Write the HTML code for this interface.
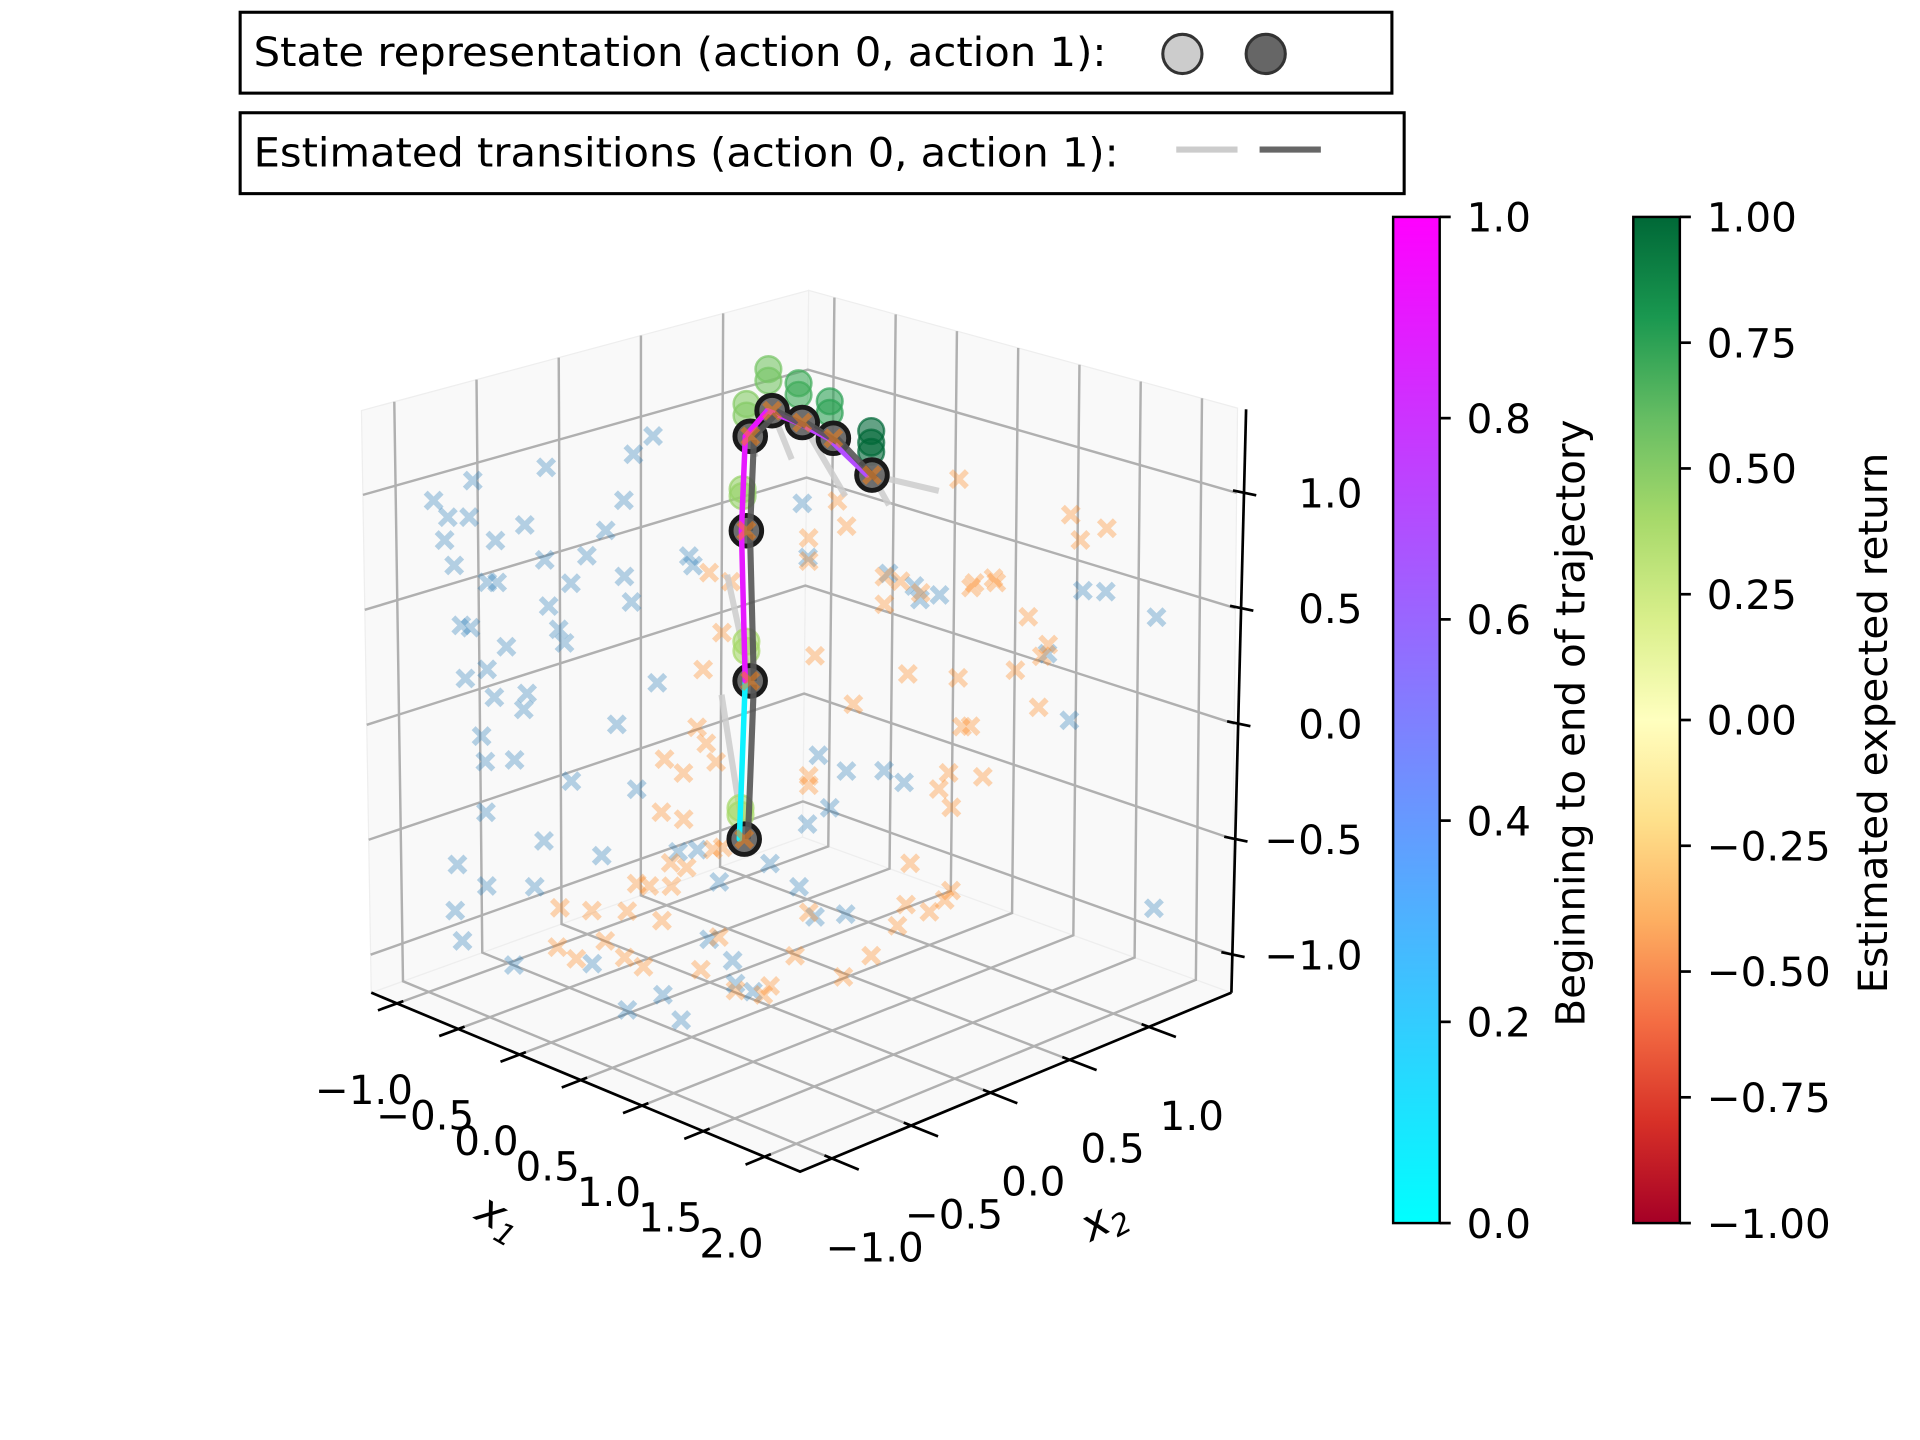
<!DOCTYPE html>
<html><head><meta charset="utf-8"><style>
html,body{margin:0;padding:0;background:#fff;}
svg{display:block;font-family:"DejaVu Sans","Liberation Sans",sans-serif;}
</style></head><body>
<svg id="chart" width="1920" height="1440" viewBox="0 0 1567 1175" preserveAspectRatio="none" xmlns="http://www.w3.org/2000/svg">
<defs>
<linearGradient id="gcool" x1="0" y1="1" x2="0" y2="0"><stop offset="0" stop-color="#00ffff"/><stop offset="1" stop-color="#ff00ff"/></linearGradient>
<linearGradient id="grdylgn" x1="0" y1="1" x2="0" y2="0">
<stop offset="0" stop-color="#a50026"/><stop offset="0.1" stop-color="#d73027"/><stop offset="0.2" stop-color="#f46d43"/><stop offset="0.3" stop-color="#fdae61"/><stop offset="0.4" stop-color="#fee08b"/><stop offset="0.5" stop-color="#ffffbf"/><stop offset="0.6" stop-color="#d9ef8b"/><stop offset="0.7" stop-color="#a6d96a"/><stop offset="0.8" stop-color="#66bd63"/><stop offset="0.9" stop-color="#1a9850"/><stop offset="1" stop-color="#006837"/>
</linearGradient>
</defs>
<g id="legend1">
<rect x="196" y="10" width="940" height="66" fill="#fff" stroke="#000" stroke-width="2.5"/>
<text x="207" y="54" font-size="33" textLength="696" lengthAdjust="spacingAndGlyphs">State representation (action 0, action 1):</text>
<circle cx="965" cy="44" r="16" fill="#cccccc" stroke="#333" stroke-width="2.5"/>
<circle cx="1033" cy="44" r="16" fill="#666666" stroke="#333" stroke-width="2.5"/>
</g>
<g id="legend2">
<rect x="196" y="92" width="950" height="66" fill="#fff" stroke="#000" stroke-width="2.5"/>
<text x="207" y="136" font-size="33" textLength="706" lengthAdjust="spacingAndGlyphs">Estimated transitions (action 0, action 1):</text>
<line x1="960" y1="122" x2="1010" y2="122" stroke="#cccccc" stroke-width="5"/>
<line x1="1028" y1="122" x2="1078" y2="122" stroke="#666666" stroke-width="5"/>
</g>
<g id="plot3d"></g>
<g id="cbar1">
<rect x="1137" y="177" width="38" height="821" fill="url(#gcool)" stroke="#000" stroke-width="2"/>
</g>
<g id="cbar2">
<rect x="1333" y="177" width="38" height="821" fill="url(#grdylgn)" stroke="#000" stroke-width="2"/>
</g>
<text transform="translate(1293,590) rotate(-90)" text-anchor="middle" font-size="33">Beginning to end of trajectory</text>
<text transform="translate(1540,590) rotate(-90)" text-anchor="middle" font-size="33">Estimated expected return</text>
</svg>
<script>
// axis domains
const X1MIN=-1.21, X1MAX=2.29, X2MIN=-1.2, X2MAX=1.52, ZMIN=-1.165, ZMAX=1.367;
const x1Ticks=[-1.0,-0.5,0.0,0.5,1.0,1.5,2.0];
const x1TickLabels=["\u22121.0","\u22120.5","0.0","0.5","1.0","1.5","2.0"];
const x2Ticks=[-1.0,-0.5,0.0,0.5,1.0];
const x2TickLabels=["\u22121.0","\u22120.5","0.0","0.5","1.0"];
const zTicks=[-1.0,-0.5,0.0,0.5,1.0];
const zTickLabels=["\u22121.0","\u22120.5","0.0","0.5","1.0"];
// action 0 sampled states (blue)
const blueX1=[-0.05,-0.13,-0.77,-0.48,-0.17,-0.93,-0.87,-0.79,-0.885,-0.685,-0.565,-0.24,-0.485,-0.315,-0.85,-0.675,-0.715,-0.38,-0.17,-0.14,0.09,0.11,-0.47,-0.825,-0.79,-0.43,-0.41,-0.645,-0.725,-0.81,-0.695,-0.56,-0.575,-0.04,-0.20,-0.75,-0.735,-0.615,-0.39,-0.12,-0.735,-0.855,-0.735,-0.50,-0.265,0.045,-0.865,-0.835,-0.54,-0.625,-0.31,0.365,-0.02,0.165,0.265,0.275,0.43,0.44,0.55,0.57,0.895,1.0,1.10,1.02,0.875,0.96,0.725,0.615,0.655,0.565,0.415,0.535,0.60,0.72,1.675,1.77,1.975,1.535,1.625,1.975,0.125,0.21];
const blueX2=[-0.30,-0.36,-0.86,-0.63,-0.39,-0.98,-0.94,-0.87,-0.95,-0.79,-0.70,-0.45,-0.64,-0.51,-0.92,-0.79,-0.82,-0.56,-0.39,-0.37,-0.19,-0.18,-0.63,-0.90,-0.87,-0.60,-0.58,-0.76,-0.82,-0.89,-0.80,-0.70,-0.71,-0.29,-0.42,-0.84,-0.83,-0.74,-0.56,-0.36,-0.83,-0.92,-0.83,-0.65,-0.47,-0.23,-0.93,-0.91,-0.68,-0.75,-0.50,-0.80,-0.28,-0.13,-0.06,-0.05,-0.06,-0.52,0.16,0.18,0.43,0.51,0.59,0.53,0.42,0.48,0.30,0.21,0.25,0.18,0.06,0.15,0.20,0.30,1.04,1.11,1.27,0.93,1.00,1.27,-0.17,-0.10];
const blueZ=[1.27,1.19,1.07,1.13,0.99,0.98,0.91,0.91,0.81,0.81,0.88,0.86,0.73,0.75,0.70,0.63,0.63,0.63,0.66,0.55,0.75,0.71,0.53,0.44,0.43,0.43,0.37,0.35,0.25,0.21,0.13,0.15,0.08,0.20,0.02,-0.04,-0.15,-0.14,-0.23,-0.26,-0.37,-0.60,-0.69,-0.49,-0.55,-0.53,-0.80,-0.93,-0.69,-1.03,-1.02,-1.0,-1.15,-0.91,-1.00,-1.10,-1.1,-1.1,0.98,0.745,0.675,0.62,0.58,0.56,-0.18,-0.23,-0.18,-0.11,-0.34,-0.41,-0.58,-0.68,-0.81,-0.80,0.59,0.585,0.47,0.32,0.03,-0.79,-0.52,-0.66];
// action 1 sampled states (orange)
const orangeX1=[1.175,0.69,0.725,0.575,0.575,0.175,0.26,0.875,0.94,1.24,1.315,1.325,1.225,1.025,1.625,1.775,1.665,1.455,1.54,1.515,1.405,0.875,0.225,0.15,0.60,0.755,0.975,1.175,1.195,1.225,1.505,1.14,1.10,1.15,1.275,0.125,0.16,-0.01,0.065,-0.025,0.065,0.575,0.575,0.225,0.185,0.01,0.075,-0.075,-0.125,0.015,-0.165,-0.44,-0.31,-0.025,0.205,-0.255,-0.175,-0.375,-0.45,-0.10,0.135,0.275,0.415,0.715,0.385,0.825,0.515,0.575,0.985,1.15,0.965,1.125,1.065,0.935,0.20];
const orangeX2=[0.65,0.27,0.30,0.18,0.18,-0.13,-0.06,0.42,0.47,0.70,0.76,0.77,0.69,0.53,1.00,1.11,1.03,0.87,0.93,0.91,0.83,0.42,-0.09,-0.15,0.20,0.32,0.49,0.65,0.66,0.69,0.90,0.62,0.59,0.63,0.73,-0.17,-0.14,-0.27,-0.21,-0.28,-0.21,0.18,0.18,-0.09,-0.12,-0.25,-0.20,-0.32,-0.36,-0.25,-0.39,-0.60,-0.50,-0.28,-0.10,-0.46,-0.40,-0.55,-0.61,-0.34,-0.16,-0.05,0.06,0.29,0.04,0.38,0.14,0.18,0.50,0.63,0.49,0.61,0.56,0.46,-0.11];
const orangeZ=[1.08,0.99,0.88,0.83,0.73,0.68,0.64,0.66,0.64,0.63,0.65,0.63,0.61,0.59,0.92,0.86,0.81,0.48,0.36,0.31,0.25,0.54,0.42,0.26,0.32,0.11,0.24,0.22,0.01,0.01,0.09,-0.19,-0.26,-0.34,-0.21,0.01,-0.06,-0.13,-0.19,-0.36,-0.39,-0.20,-0.24,-0.51,-0.52,-0.58,-0.60,-0.68,-0.67,-0.68,-0.79,-0.78,-0.79,-0.83,-0.90,-0.92,-0.99,-1.00,-0.95,-1.03,-1.04,-1.13,-1.11,-1.07,-1.15,-0.98,-0.98,-0.79,-0.58,-0.70,-0.76,-0.74,-0.79,-0.85,-0.14];
// trajectory states
const trajX1=[0.31,0.335,0.32,0.34,0.425,0.55,0.67,0.825];
const trajX2=[-0.02,0.00,-0.01,0.00,0.07,0.16,0.26,0.38];
const trajZ=[-0.475,0.21,0.86,1.27,1.38,1.33,1.26,1.10];
const trajTime=[0.05,0.9,0.9,0.92,0.8,0.75,0.7,1.0];
// estimated expected return markers
const retX1=[0.31,0.31,0.335,0.335,0.32,0.32,0.34,0.34,0.425,0.425,0.55,0.55,0.67,0.67,0.835,0.835,0.835];
const retX2=[-0.02,-0.02,0.00,0.00,-0.01,-0.01,0.00,0.00,0.07,0.07,0.16,0.16,0.26,0.26,0.39,0.39,0.39];
const retZ=[-0.37,-0.34,0.34,0.38,1.01,1.04,1.36,1.41,1.51,1.56,1.45,1.50,1.37,1.42,1.20,1.24,1.29];
const retValue=[0.4,0.4,0.4,0.4,0.45,0.45,0.5,0.5,0.55,0.55,0.7,0.7,0.75,0.75,1.0,1.0,1.0];
// action-0 estimated transitions (source index -> target)
const tr0From=[3,4,5,7,7,1,0];
const tr0X1=[0.36,0.505,0.72,1.095,0.895,0.245,0.22];
const tr0X2=[0.017,0.129,0.296,0.587,0.432,-0.072,-0.09];
const tr0Z=[1.18,1.17,1.01,1.03,0.97,0.67,0.15];
// colorbar ticks
const cb1Ticks=[0.0,0.2,0.4,0.6,0.8,1.0];
const cb1Labels=["0.0","0.2","0.4","0.6","0.8","1.0"];
const cb2Ticks=[-1.0,-0.75,-0.5,-0.25,0.0,0.25,0.5,0.75,1.0];
const cb2Labels=["\u22121.00","\u22120.75","\u22120.50","\u22120.25","0.00","0.25","0.50","0.75","1.00"];

const NS="http://www.w3.org/2000/svg";
const B=[303,810],A=[653,956],C=[1005,810],D=[655,683];
const Bt=[295,335],At=[650,445],Ct=[1010,333],Dt=[660,237];
function bil(p00,p10,p11,p01,u,v,k){return (1-u)*(1-v)*p00[k]+u*(1-v)*p10[k]+u*v*p11[k]+(1-u)*v*p01[k];}
function P(x1,x2,z){
  const u=(x1-X1MIN)/(X1MAX-X1MIN), v=(x2-X2MIN)/(X2MAX-X2MIN), w=(z-ZMIN)/(ZMAX-ZMIN);
  const fx=bil(B,A,C,D,u,v,0), fy=bil(B,A,C,D,u,v,1);
  const tx=bil(Bt,At,Ct,Dt,u,v,0), ty=bil(Bt,At,Ct,Dt,u,v,1);
  return [fx+(tx-fx)*w, fy+(ty-fy)*w];
}
function mk(tag,attrs,parent){const e=document.createElementNS(NS,tag);for(const k in attrs)e.setAttribute(k,attrs[k]);parent.appendChild(e);return e;}
function pts(arr){return arr.map(p=>p[0].toFixed(1)+","+p[1].toFixed(1)).join(" ");}
function cool(t){return "rgb("+Math.round(255*t)+","+Math.round(255*(1-t))+",255)";}
const RG=["#a50026","#d73027","#f46d43","#fdae61","#fee08b","#ffffbf","#d9ef8b","#a6d96a","#66bd63","#1a9850","#006837"];
function hex(h){return [parseInt(h.substr(1,2),16),parseInt(h.substr(3,2),16),parseInt(h.substr(5,2),16)];}
function rdylgn(val){let t=(val+1)/2*10;let i=Math.min(9,Math.floor(t));let f=t-i;const a=hex(RG[i]),b=hex(RG[i+1]);return "rgb("+a.map((c,k)=>Math.round(c+(b[k]-c)*f)).join(",")+")";}

const g=document.getElementById('plot3d');
let e;
e=mk('polygon',{points:pts([P(X1MIN,X2MIN,ZMIN),P(X1MAX,X2MIN,ZMIN),P(X1MAX,X2MAX,ZMIN),P(X1MIN,X2MAX,ZMIN)]),fill:"#f9f9f9",stroke:"#eeeeee"},g);


e=mk('polygon',{points:pts([P(X1MIN,X2MIN,ZMIN),P(X1MIN,X2MAX,ZMIN),P(X1MIN,X2MAX,ZMAX),P(X1MIN,X2MIN,ZMAX)]),fill:"#f9f9f9",stroke:"#eeeeee"},g);


e=mk('polygon',{points:pts([P(X1MIN,X2MAX,ZMIN),P(X1MAX,X2MAX,ZMIN),P(X1MAX,X2MAX,ZMAX),P(X1MIN,X2MAX,ZMAX)]),fill:"#f9f9f9",stroke:"#eeeeee"},g);


const grid=mk('g',{stroke:"#b0b0b0","stroke-width":"2",fill:"none"},g);


x1Ticks.forEach(t=>{
  mk('polyline',{points:pts([P(t,X2MIN,ZMIN),P(t,X2MAX,ZMIN),P(t,X2MAX,ZMAX)])},grid);
});
x2Ticks.forEach(t=>{
  mk('polyline',{points:pts([P(X1MAX,t,ZMIN),P(X1MIN,t,ZMIN),P(X1MIN,t,ZMAX)])},grid);
});
zTicks.forEach(t=>{
  mk('polyline',{points:pts([P(X1MIN,X2MIN,t),P(X1MIN,X2MAX,t),P(X1MAX,X2MAX,t)])},grid);
});
const ax=mk('g',{stroke:"#000","stroke-width":"2.2",fill:"none"},g);


mk('polyline',{points:pts([P(X1MIN,X2MIN,ZMIN),P(X1MAX,X2MIN,ZMIN),P(X1MAX,X2MAX,ZMIN)])},ax);
mk('polyline',{points:pts([[1005,810],[1017,334]])},ax);
const tl=mk('g',{"font-size":"33","text-anchor":"middle",fill:"#000"},g);


x1Ticks.forEach((t,i)=>{
  const a=P(t,X2MIN+0.04,ZMIN),b=P(t,X2MIN-0.12,ZMIN);
  mk('line',{x1:a[0],y1:a[1],x2:b[0],y2:b[1],stroke:"#000","stroke-width":"2.2"},ax);
  const p=P(t,X2MIN,ZMIN);
  const tx=mk('text',{x:p[0]-27,y:p[1]+82},tl);
  tx.textContent=x1TickLabels[i];
  
  
});
x2Ticks.forEach((t,i)=>{
  const a=P(X1MAX-0.06,t,ZMIN),b=P(X1MAX+0.22,t,ZMIN);
  mk('line',{x1:a[0],y1:a[1],x2:b[0],y2:b[1],stroke:"#000","stroke-width":"2.2"},ax);
  const p=P(X1MAX,t,ZMIN);
  const tx=mk('text',{x:p[0]+35,y:p[1]+84},tl);
  tx.textContent=x2TickLabels[i];
  
  
});
zTicks.forEach((t,i)=>{
  const p=P(X1MAX,X2MAX,t);
  const yy=p[1];const xx=1005+12*(810-yy)/476;
  mk('line',{x1:xx-9,y1:yy-2,x2:xx+10,y2:yy+2,stroke:"#000","stroke-width":"2.2"},ax);
  const tx=mk('text',{x:1112,y:yy+12,"text-anchor":"end"},tl);
  tx.textContent=zTickLabels[i];
  
  
});
e=mk('text',{transform:"translate(402,1003) rotate(30)","font-size":"36","font-style":"italic","text-anchor":"middle"},g);
e.innerHTML='x<tspan font-size="24" dy="7">1</tspan>';


e=mk('text',{transform:"translate(906,1005) rotate(-28)","font-size":"36","font-style":"italic","text-anchor":"middle"},g);
e.innerHTML='x<tspan font-size="24" dy="7">2</tspan>';



function cross(p,color,op,parent,name){
  const s=6.5;
  const c=mk('path',{d:`M${p[0]-s},${p[1]-s}L${p[0]+s},${p[1]+s}M${p[0]-s},${p[1]+s}L${p[0]+s},${p[1]-s}`,stroke:color,"stroke-width":"4.6","stroke-opacity":op,fill:"none"},parent);
  
  
}
const sg=mk('g',{},g);


blueX1.forEach((x,i)=>cross(P(x,blueX2[i],blueZ[i]),"#1f77b4",0.32,sg,'action0-state-marker'));
orangeX1.forEach((x,i)=>cross(P(x,orangeX2[i],orangeZ[i]),"#ff7f0e",0.32,sg,'action1-state-marker'));
const tg=mk('g',{stroke:"#cccccc","stroke-width":"5","stroke-opacity":"0.85"},g);


tr0From.forEach((fi,i)=>{
  const a=P(trajX1[fi],trajX2[fi],trajZ[fi]),b=P(tr0X1[i],tr0X2[i],tr0Z[i]);
  const l=mk('line',{x1:a[0],y1:a[1],x2:b[0],y2:b[1]},tg);
  
  
});
const rg=mk('g',{},g);


retX1.forEach((x,i)=>{
  const p=P(x,retX2[i],retZ[i]);const col=rdylgn(retValue[i]);
  const c=mk('circle',{cx:p[0]-3,cy:p[1],r:10.5,fill:col,"fill-opacity":0.6,stroke:col,"stroke-width":2,"stroke-opacity":0.7},rg);
  
  
});
const cg=mk('g',{},g);


const tp=trajX1.map((x,i)=>P(x,trajX2[i],trajZ[i]));
tp.forEach(p=>{
  const c=mk('circle',{cx:p[0],cy:p[1],r:12.5,fill:"#666666","fill-opacity":0.95,stroke:"#1a1a1a","stroke-width":4},cg);
  
  
});
const lg=mk('g',{"stroke-width":"4.5","stroke-linecap":"round"},g);


for(let i=0;i<tp.length-1;i++){
  const l=mk('line',{x1:tp[i][0]-4,y1:tp[i][1],x2:tp[i+1][0]-4,y2:tp[i+1][1],stroke:cool(trajTime[i])},lg);
  
  
}
const dg=mk('g',{stroke:"#555555","stroke-width":"5","stroke-opacity":"0.9",fill:"none"},g);


for(let i=0;i<tp.length-1;i++){
  const l=mk('line',{x1:tp[i][0]+3,y1:tp[i][1],x2:tp[i+1][0]+3,y2:tp[i+1][1]+3},dg);
  
  
}
tp.forEach(p=>cross(p,"#ff7f0e",0.5,g,'trajectory-action-marker'));

function cbar(id,ticks,labels,vmin,vmax,x0,name){
  const cg=document.getElementById(id);
  ticks.forEach((t,i)=>{
    const y=998-(t-vmin)/(vmax-vmin)*821;
    mk('line',{x1:x0,y1:y,x2:x0+9,y2:y,stroke:"#000","stroke-width":"2.2"},cg);
    const tx=mk('text',{x:x0+22,y:y+12,"font-size":"33"},cg);
    tx.textContent=labels[i];
    
    
  });
}
cbar('cbar1',cb1Ticks,cb1Labels,0,1,1175,'trajectory-colorbar-tick-label');
cbar('cbar2',cb2Ticks,cb2Labels,-1,1,1371,'return-colorbar-tick-label');
</script>
</body></html>
